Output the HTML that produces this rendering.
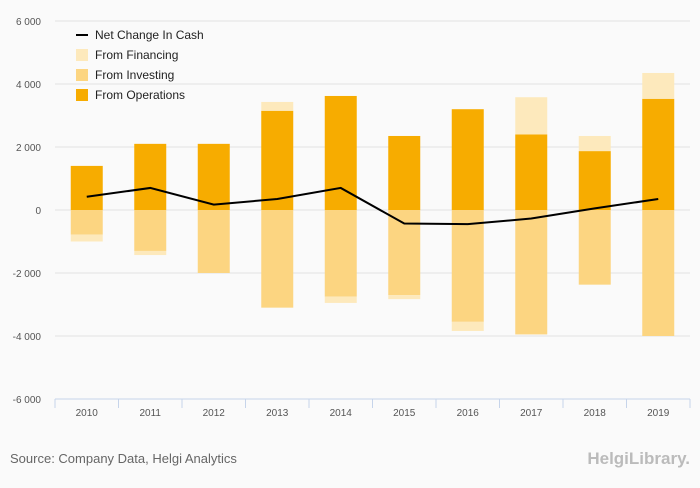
<!DOCTYPE html>
<html><head><meta charset="utf-8"><style>
body{margin:0;background:#fafafa;font-family:"Liberation Sans",sans-serif}
</style></head><body>
<svg id="c" width="700" height="483" font-family="Liberation Sans, sans-serif" style="background:#fafafa">
</svg>
<script>
const years=["2010","2011","2012","2013","2014","2015","2016","2017","2018","2019"];
const operations=[1400,2100,2100,3150,3620,2350,3200,2400,1870,3530];
const investing=[-780,-1300,-2000,-3100,-2750,-2700,-3550,-3950,-2370,-4000];
const financing=[-220,-130,0,280,-200,-130,-290,1180,480,820];
const netChange=[420,700,170,350,700,-430,-450,-270,50,350];
const yTicks=[6000,4000,2000,0,-2000,-4000,-6000];
const tickLabels=["6 000","4 000","2 000","0","-2 000","-4 000","-6 000"];

const svg=document.getElementById('c');
const NS="http://www.w3.org/2000/svg";
const X0=55,X1=690,Y0=210,PX=63/2000;
const bw=(X1-X0)/years.length;
const y=v=>Y0-v*PX;
const xc=i=>X0+bw*(i+0.5);
function el(t,a,p){const e=document.createElementNS(NS,t);for(const k in a)e.setAttribute(k,a[k]);(p||svg).appendChild(e);return e;}

yTicks.forEach((v,i)=>{
  if(v!==-6000){const g=el('line',{x1:X0,x2:X1,y1:y(v),y2:y(v),stroke:'#e3e3e3','stroke-width':1});
  
  }
  const t=el('text',{x:41,y:y(v)+4,'text-anchor':'end','font-size':10,fill:'#555'});
  t.textContent=tickLabels[i];
  
  
});
const ax=el('line',{x1:X0,x2:X1,y1:y(-6000),y2:y(-6000),stroke:'#c6d4ea','stroke-width':1});



years.forEach((yr,i)=>{
  const cx=xc(i),w=32;
  const op=el('rect',{x:cx-w/2,y:y(operations[i]),width:w,height:operations[i]*PX,fill:'#f7ac00'});
  
  
  const iv=el('rect',{x:cx-w/2,y:y(0),width:w,height:-investing[i]*PX,fill:'#fcd581'});
  
  
  const f=financing[i];
  let fy,fh;
  if(f>=0){fy=y(operations[i]+f);fh=f*PX;}else{fy=y(investing[i]);fh=-f*PX;}
  const fr=el('rect',{x:cx-w/2,y:fy,width:w,height:fh,fill:'#fde9bc'});
  
  
  const s=el('line',{x1:X0+bw*i,x2:X0+bw*i,y1:y(-6000),y2:y(-6000)+9,stroke:'#c6d4ea'});
  
  
  const t=el('text',{x:cx,y:y(-6000)+17,'text-anchor':'middle','font-size':10,fill:'#555'});
  t.textContent=yr;
  
  
});
const last=el('line',{x1:X1,x2:X1,y1:y(-6000),y2:y(-6000)+9,stroke:'#c6d4ea'});


const pl=el('polyline',{points:netChange.map((v,i)=>xc(i)+','+y(v)).join(' '),fill:'none',stroke:'#000','stroke-width':2});



const leg=[["Net Change In Cash",null],["From Financing","#fde9bc"],["From Investing","#fcd581"],["From Operations","#f7ac00"]];
leg.forEach((l,i)=>{
  const ly=35+i*20;
  if(l[1]){const r=el('rect',{x:76,y:ly-6,width:12,height:12,fill:l[1]});
    
    }
  else{const r=el('line',{x1:76,x2:88,y1:ly,y2:ly,stroke:'#000','stroke-width':2});
    
    }
  const t=el('text',{x:95,y:ly+4,'font-size':12,fill:'#222'});
  t.textContent=l[0];
  
  
});
const src=el('text',{x:10,y:463,'font-size':13,fill:'#666'});
src.textContent="Source: Company Data, Helgi Analytics";


const logo=el('text',{x:690,y:464,'text-anchor':'end','font-size':17,fill:'#bbb','font-weight':'bold'});
logo.textContent="HelgiLibrary.";


</script>
</body></html>
